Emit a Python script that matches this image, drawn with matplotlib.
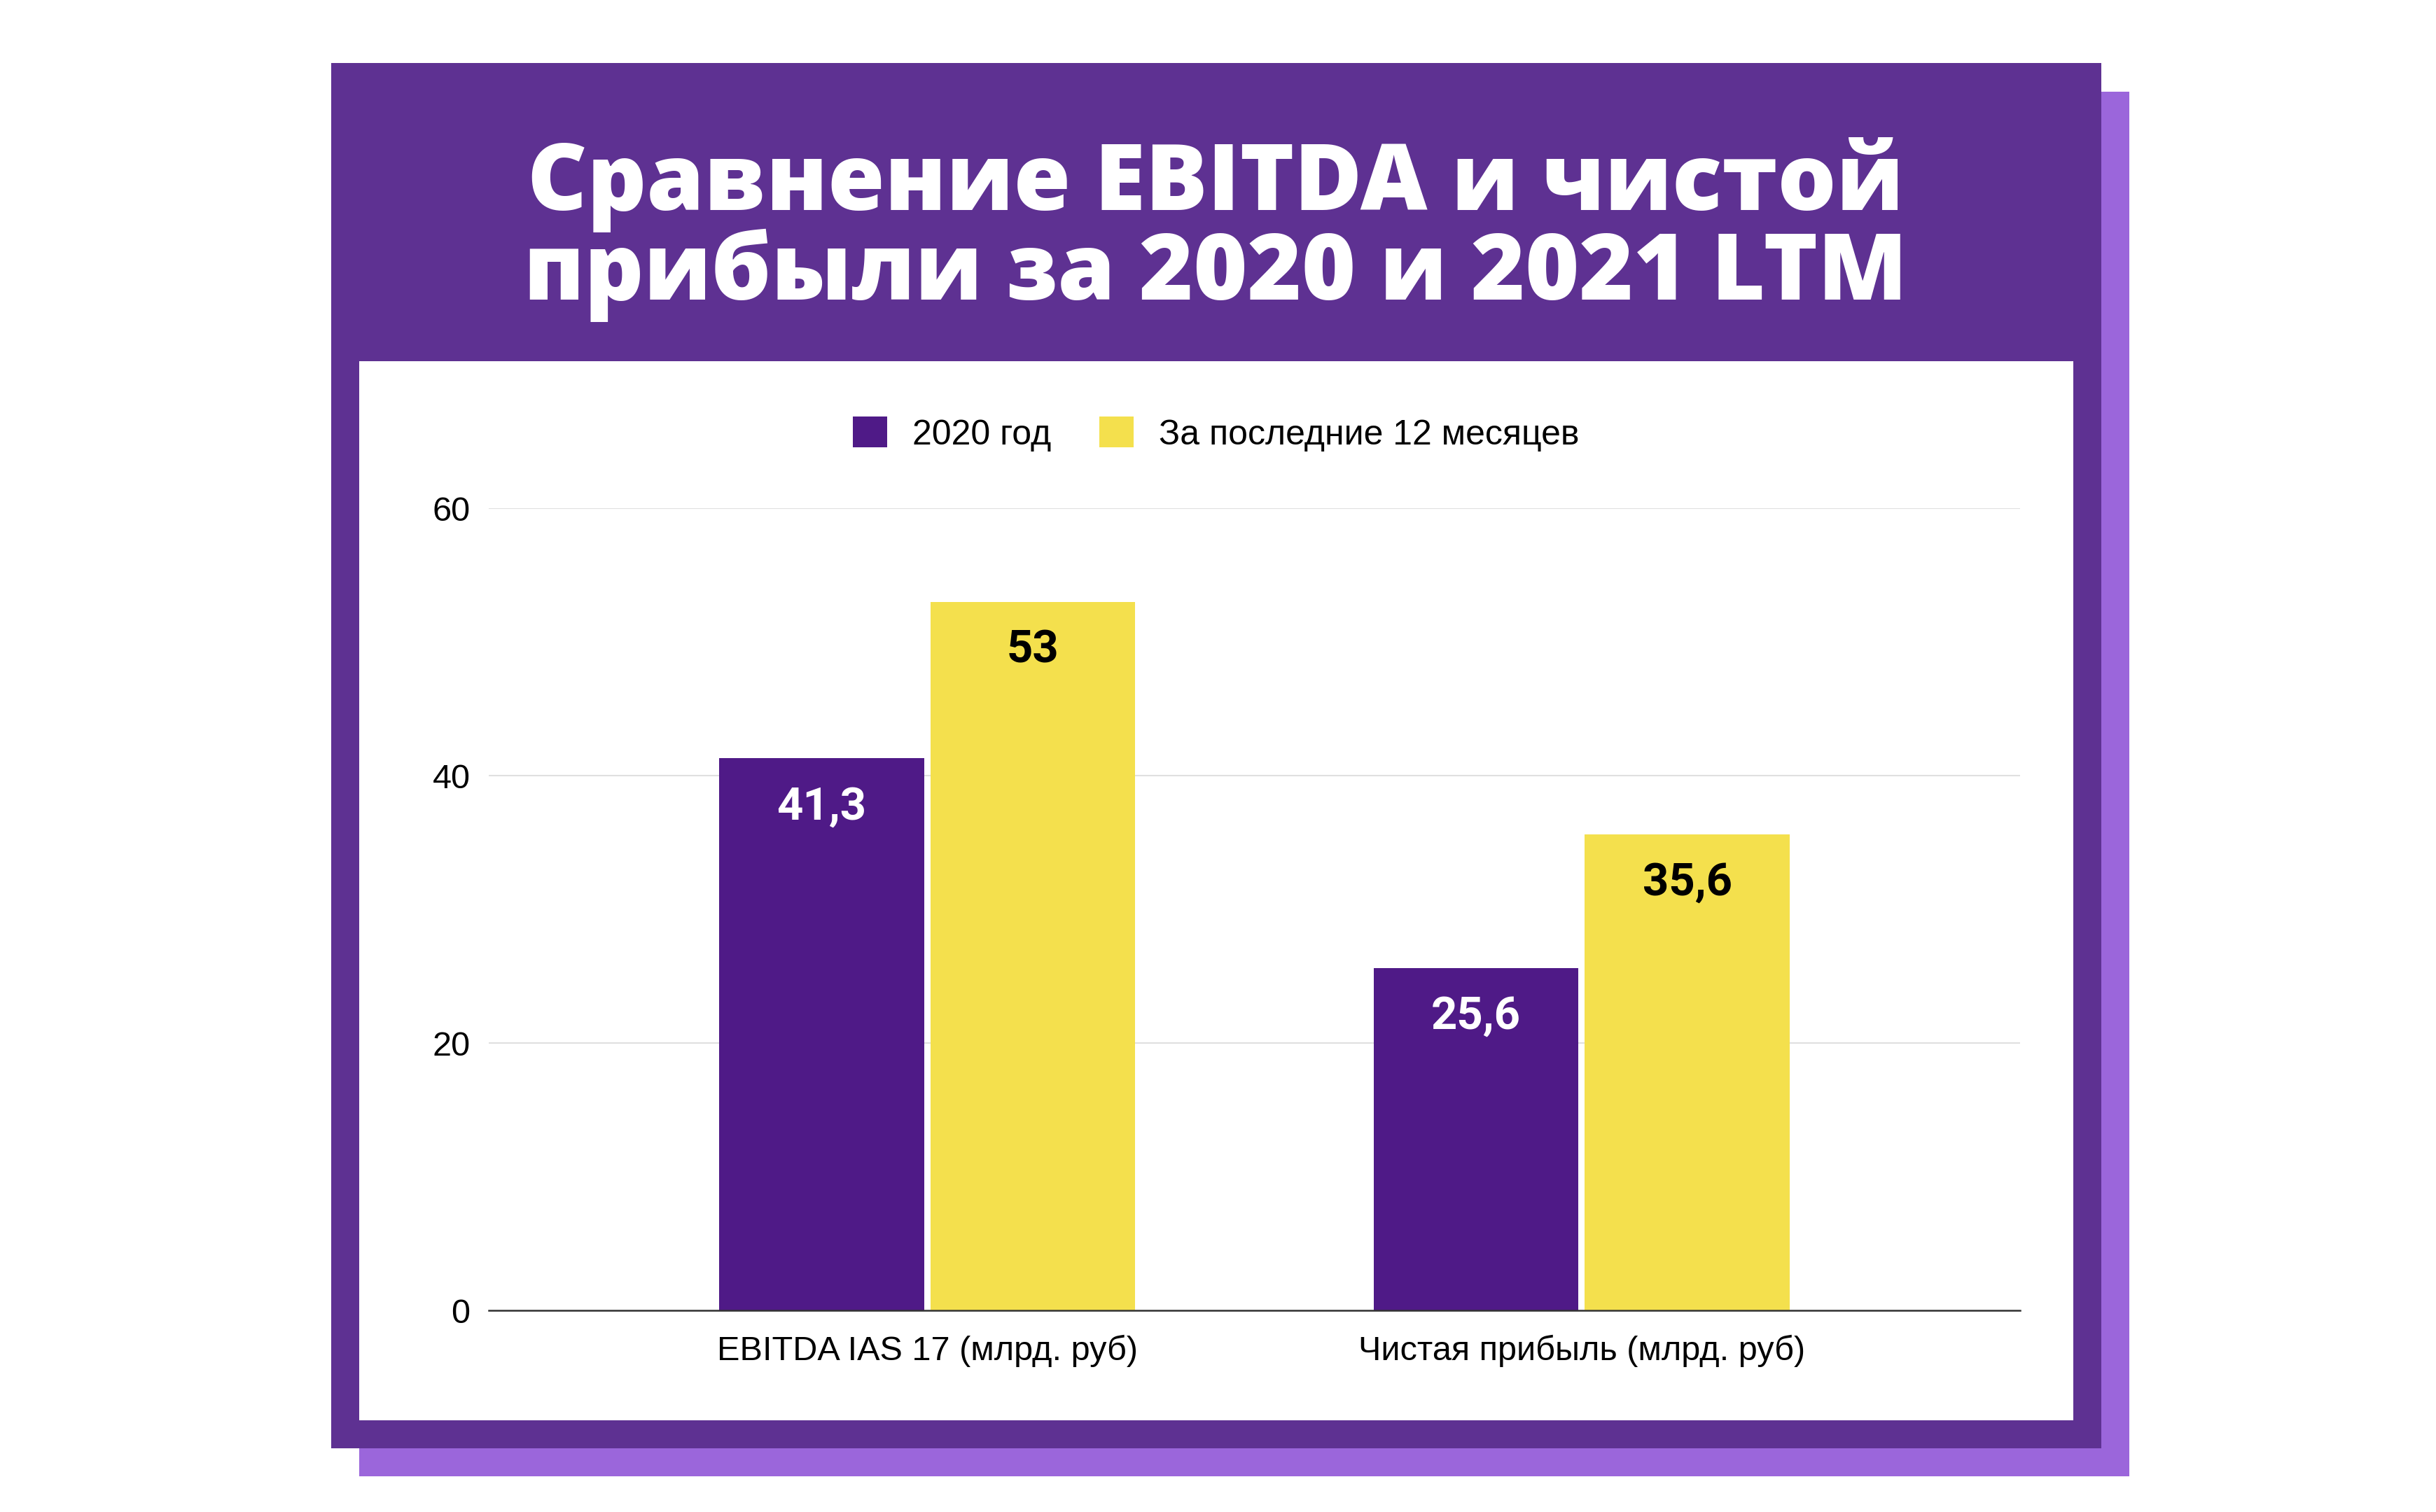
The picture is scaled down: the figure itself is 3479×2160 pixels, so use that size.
import matplotlib
matplotlib.use("Agg")
import matplotlib.pyplot as plt
from matplotlib.patches import Rectangle
import numpy as np

# ---- data ----
categories = ["EBITDA IAS 17 (млрд. руб)", "Чистая прибыль (млрд. руб)"]
series_names = ["2020 год", "За последние 12 месяцев"]
values_2020 = [41.3, 25.6]
values_ltm = [53.0, 35.6]
labels_2020 = ["41,3", "25,6"]
labels_ltm = ["53", "35,6"]
y_ticks = [0, 20, 40, 60]
title_lines = ["Сравнение EBITDA и чистой", "прибыли за 2020 и 2021 LTM"]

# ---- style ----
W, H = 3480, 2160
DPI = 100
c_frame = "#5E3192"
c_shadow = "#9B66DB"
c_purple = "#4F1A87"
c_yellow = "#F4E04D"

fig = plt.figure(figsize=(W / DPI, H / DPI), dpi=DPI)
fig.patch.set_facecolor("white")

def rect_px(x0, y0, x1, y1, color, z):
    r = Rectangle((x0 / W, 1 - y1 / H), (x1 - x0) / W, (y1 - y0) / H,
                  transform=fig.transFigure, facecolor=color, edgecolor="none",
                  zorder=z)
    fig.patches.append(r)

rect_px(513, 131, 3041, 2109, c_shadow, -3)
rect_px(473, 90, 3001, 2069, c_frame, -2)
rect_px(513, 516, 2961, 2029, "white", -1)

# title
for i, line in enumerate(title_lines):
    fig.text(1736 / W, 1 - (300 + 128 * i) / H, line, ha="center", va="baseline",
             color="white", fontsize=95, fontweight=800, family="Open Sans")

# axes
ax_l, ax_r = 698, 2885
ax_t, ax_b = 726, 1872
ax = fig.add_axes([ax_l / W, 1 - ax_b / H, (ax_r - ax_l) / W, (ax_b - ax_t) / H])
ax.set_facecolor("none")

x = np.arange(len(categories))
bw = 0.313
off = 0.1615
b1 = ax.bar(x - off, values_2020, width=bw, color=c_purple, zorder=3,
            label=series_names[0])
b2 = ax.bar(x + off, values_ltm, width=bw, color=c_yellow, zorder=3,
            label=series_names[1])

for xi, v, t in zip(x - off, values_2020, labels_2020):
    ax.annotate(t, xy=(xi, v), xytext=(0, -50), textcoords="offset points",
                ha="center", va="center", color="white", fontsize=47,
                fontweight="bold", family="Roboto", zorder=4)
for xi, v, t in zip(x + off, values_ltm, labels_ltm):
    ax.annotate(t, xy=(xi, v), xytext=(0, -50), textcoords="offset points",
                ha="center", va="center", color="black", fontsize=47,
                fontweight="bold", family="Roboto", zorder=4)

ax.set_xlim(-0.67, 1.67)
ax.set_ylim(0, 60)
ax.set_yticks(y_ticks)
ax.set_yticklabels([str(t) for t in y_ticks])
ax.set_xticks(x)
ax.set_xticklabels(categories)
for lab in ax.get_xticklabels() + ax.get_yticklabels():
    lab.set_family("Liberation Sans")
    lab.set_fontsize(35)
    lab.set_color("black")
ax.tick_params(axis="both", length=0)
ax.tick_params(axis="y", pad=19)
ax.tick_params(axis="x", pad=25)
ax.grid(axis="y", color="#e0e0e0", linewidth=1.5, zorder=0)
ax.set_axisbelow(True)
for s in ["top", "right", "left"]:
    ax.spines[s].set_visible(False)
ax.spines["bottom"].set_color("#333333")
ax.spines["bottom"].set_linewidth(1.8)
ax.spines["bottom"].set_zorder(5)

leg = fig.legend(handles=[b1, b2], labels=series_names, loc="center",
                 bbox_to_anchor=(1737 / W, 1 - 620 / H), ncol=2, frameon=False,
                 prop={"family": "Liberation Sans", "size": 36},
                 handlelength=0.98, handleheight=0.98, handletextpad=0.72,
                 columnspacing=1.38, borderpad=0, borderaxespad=0)

fig.savefig("out.png", dpi=DPI)
